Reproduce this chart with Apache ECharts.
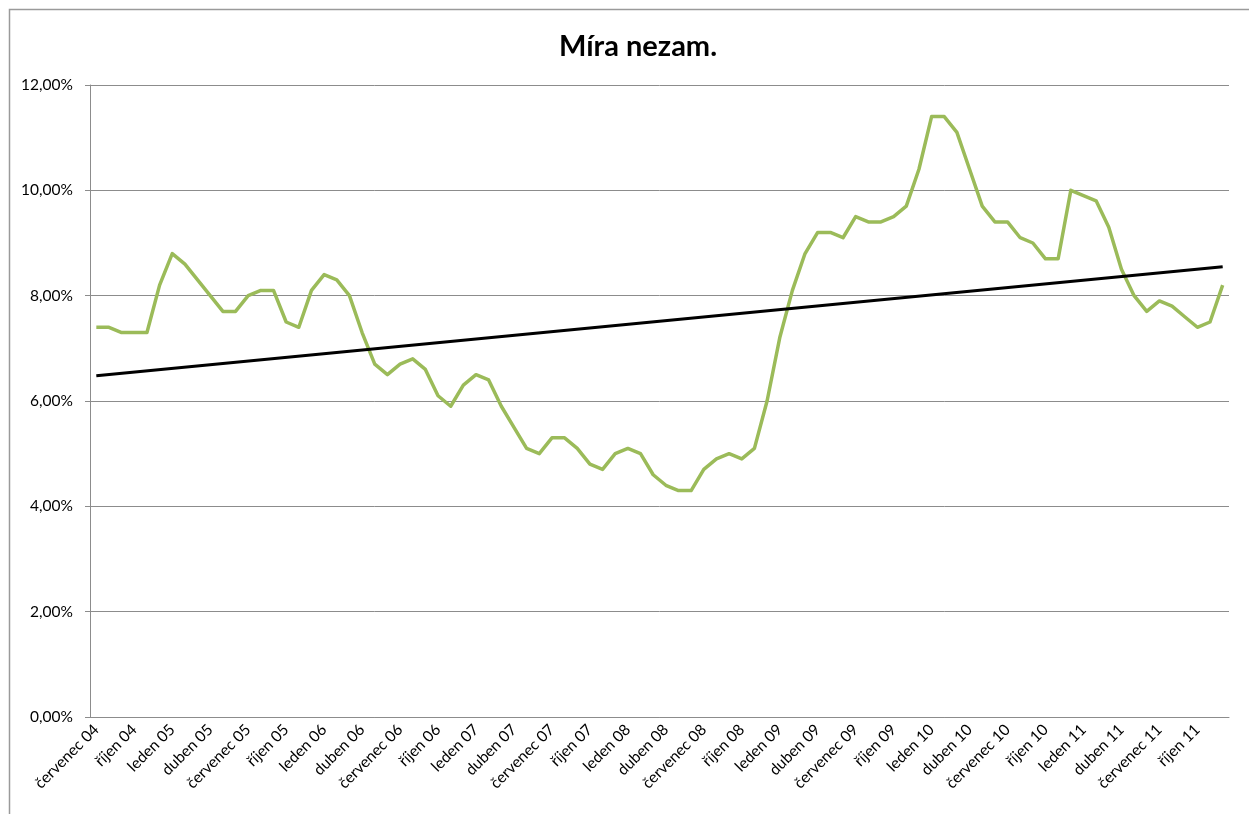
<!DOCTYPE html>
<html>
<head>
<meta charset="utf-8">
<script src="https://cdn.jsdelivr.net/npm/echarts@6/dist/echarts.min.js"></script>
<style>
html,body{margin:0;padding:0;background:#fff;}
#chart{width:1249px;height:814px;}
</style>
</head>
<body>
<div id="chart"></div>
<script>
const monthNames = ['leden','únor','březen','duben','květen','červen','červenec','srpen','září','říjen','listopad','prosinec'];
const years = ['04','05','06','07','08','09','10','11'];
const startMonth = 6; // červenec 04
const monthCount = 90;
const categories = [];
for (let k = 0; k < monthCount; k++) {
  const m = (startMonth + k) % 12;
  const y = Math.floor((startMonth + k) / 12);
  categories.push(monthNames[m] + ' ' + years[y]);
}
const unemployment = [
  7.4, 7.4, 7.3, 7.3, 7.3, 8.2, 8.8, 8.6, 8.3, 8.0,
  7.7, 7.7, 8.0, 8.1, 8.1, 7.5, 7.4, 8.1, 8.4, 8.3,
  8.0, 7.3, 6.7, 6.5, 6.7, 6.8, 6.6, 6.1, 5.9, 6.3,
  6.5, 6.4, 5.9, 5.5, 5.1, 5.0, 5.3, 5.3, 5.1, 4.8,
  4.7, 5.0, 5.1, 5.0, 4.6, 4.4, 4.3, 4.3, 4.7, 4.9,
  5.0, 4.9, 5.1, 6.0, 7.2, 8.1, 8.8, 9.2, 9.2, 9.1,
  9.5, 9.4, 9.4, 9.5, 9.7, 10.4, 11.4, 11.4, 11.1, 10.4,
  9.7, 9.4, 9.4, 9.1, 9.0, 8.7, 8.7, 10.0, 9.9, 9.8,
  9.3, 8.5, 8.0, 7.7, 7.9, 7.8, 7.6, 7.4, 7.5, 8.2
];
const trendEnds = [6.48, 8.55];
const yTicks = [0, 2, 4, 6, 8, 10, 12];

const chart = echarts.init(document.getElementById('chart'));
chart.setOption({
  backgroundColor: '#ffffff',
  animation: false,
  title: {
    text: 'Míra nezam.',
    left: 633, top: 27, textAlign: 'center',
    textStyle: {fontFamily: 'Lato', fontWeight: 'bold', fontSize: 29, color: '#000'}
  },
  graphic: [{
    type: 'rect', shape: {x: 9.5, y: 9.5, width: 1300, height: 900},
    style: {fill: 'none', stroke: '#9a9a9a', lineWidth: 1.5}, silent: true
  }],
  grid: {left: 90, right: 20, top: 85, bottom: 97},
  xAxis: {
    type: 'category',
    data: categories,
    boundaryGap: true,
    axisLine: {lineStyle: {color: '#8c8c8c', width: 1}},
    axisTick: {interval: 2, length: 5, lineStyle: {color: '#8c8c8c'}},
    axisLabel: {interval: 2, rotate: 45, margin: 10, fontFamily: 'Lato', fontSize: 15.5, color: '#000'},
    splitLine: {show: false}
  },
  yAxis: {
    type: 'value',
    min: yTicks[0], max: yTicks[yTicks.length - 1], interval: 2,
    axisLine: {show: true, lineStyle: {color: '#8c8c8c', width: 1}},
    axisTick: {show: true, length: 5, lineStyle: {color: '#8c8c8c'}},
    axisLabel: {
      margin: 17, fontFamily: 'Lato', fontSize: 15.5, color: '#000',
      formatter: v => v.toFixed(2).replace('.', ',') + '%'
    },
    splitLine: {lineStyle: {color: '#8c8c8c', width: 1}}
  },
  series: [
    {
      type: 'line', data: unemployment, symbol: 'none',
      lineStyle: {color: '#9bbb59', width: 3.5, join: 'round'}, z: 3
    },
    {
      type: 'line', data: [[0, trendEnds[0]], [monthCount - 1, trendEnds[1]]], symbol: 'none',
      lineStyle: {color: '#000000', width: 3}, z: 4
    }
  ]
});
</script>
</body>
</html>
